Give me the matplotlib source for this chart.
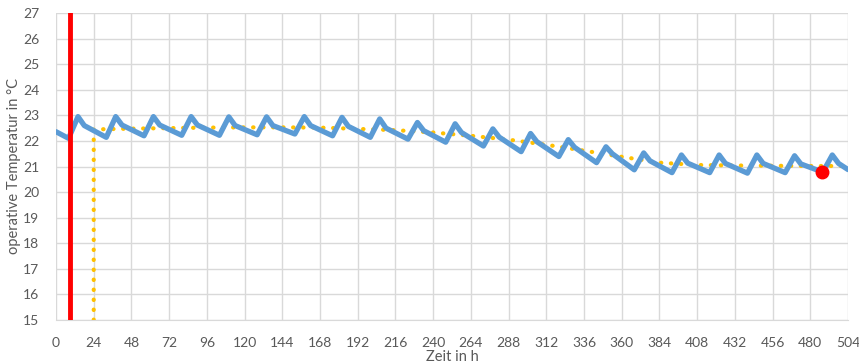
import matplotlib.pyplot as plt

# Zeitpunkte (h) und operative Temperatur (°C), Knickpunkte der Tageskurve
zeit = [0,
        8, 14, 18, 32, 38, 42, 56, 62, 66, 80, 86, 90,
        104, 110, 114, 128, 134, 138, 152, 158, 162, 176, 182, 186,
        200, 206, 210, 224, 230, 234, 248, 254, 258, 272, 278, 282,
        296, 302, 306, 320, 326, 330, 344, 350, 354, 368, 374, 378,
        392, 398, 402, 416, 422, 426, 440, 446, 450, 464, 470, 474,
        488, 494, 498, 504]
temperatur = [22.36,
              22.10, 22.95, 22.60, 22.14, 22.95, 22.62, 22.20, 22.95, 22.62, 22.22, 22.95, 22.62,
              22.22, 22.94, 22.60, 22.24, 22.94, 22.60, 22.27, 22.95, 22.60, 22.20, 22.92, 22.57,
              22.14, 22.86, 22.50, 22.07, 22.72, 22.40, 21.95, 22.67, 22.33, 21.80, 22.47, 22.15,
              21.58, 22.29, 21.97, 21.39, 22.05, 21.75, 21.15, 21.77, 21.50, 20.87, 21.53, 21.22,
              20.76, 21.45, 21.13, 20.76, 21.45, 21.12, 20.74, 21.45, 21.12, 20.76, 21.42, 21.10,
              20.78, 21.45, 21.12, 20.88]

# gepunktete Hilfslinie (Tagesmittel)
trend_zeit = [24, 24, 48, 72, 96, 120, 144, 168, 192, 216, 240, 264, 288,
              312, 336, 360, 384, 408, 432, 456, 480, 504]
trend_temp = [15.0, 22.45, 22.48, 22.50, 22.52, 22.53, 22.53, 22.52, 22.47, 22.42, 22.33,
              22.20, 22.05, 21.85, 21.62, 21.38, 21.15, 21.06, 21.04, 21.03, 21.02, 21.02]

start_zeit = 9
punkt_zeit = 487.5
punkt_temp = 20.78

x_ticks = list(range(0, 505, 24))
y_ticks = list(range(15, 28))

plt.rcParams['font.family'] = ['Lato', 'DejaVu Sans']

fig = plt.figure(figsize=(8.59, 3.63), dpi=100)
ax = fig.add_axes([56 / 859, 1 - 320 / 363, 792 / 859, 307 / 363])

ax.plot(zeit, temperatur, color='#5B9BD5', linewidth=3.8, solid_joinstyle='round',
        solid_capstyle='round', zorder=3)
ax.plot(trend_zeit, trend_temp, color='#FFC000', linewidth=3.0, linestyle=(0, (0.1, 2.3)),
        dash_capstyle='round', zorder=2)
ax.axvline(start_zeit, color='#FF0000', linewidth=3.5, zorder=4)
ax.plot([punkt_zeit], [punkt_temp], 'o', color='#FF0000', markersize=9, zorder=5)

ax.set_xlim(0, 504)
ax.set_ylim(15, 27)
ax.set_xticks(x_ticks)
ax.set_yticks(y_ticks)
ax.grid(True, color='#D9D9D9', linewidth=1)
ax.set_axisbelow(True)
for s in ['top', 'right', 'left']:
    ax.spines[s].set_visible(False)
ax.spines['bottom'].set_color('#D9D9D9')
ax.tick_params(length=0, labelsize=10, labelcolor='#595959')
ax.tick_params(axis='x', pad=12)
ax.tick_params(axis='y', pad=12)

ax.set_xlabel('Zeit in h', fontsize=10.5, color='#595959', labelpad=1)
fig.text(14 / 859, 1 - 166.5 / 363, 'operative Temperatur in °C', fontsize=10.5,
         color='#595959', rotation=90, ha='center', va='center')

fig.savefig('out.png', dpi=100)
